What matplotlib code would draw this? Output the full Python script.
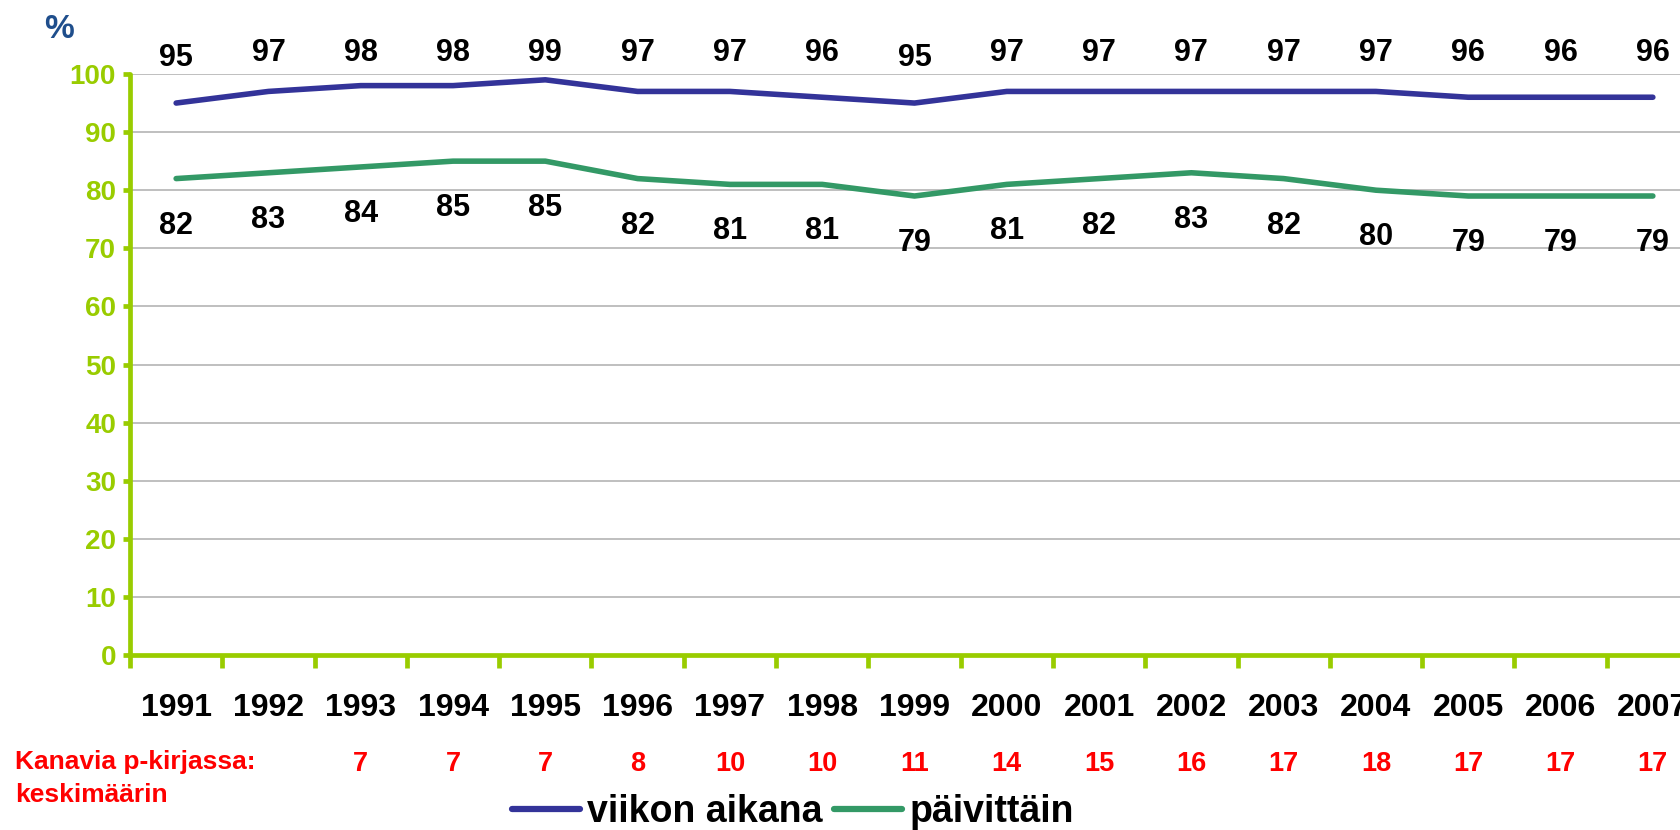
import matplotlib
matplotlib.use("Agg")
import matplotlib.pyplot as plt
import matplotlib.transforms as mtransforms
from matplotlib.lines import Line2D

plt.rcParams['font.family'] = ['Liberation Sans', 'DejaVu Sans']
plt.rcParams['font.weight'] = 'bold'

years = ['1991', '1992', '1993', '1994', '1995', '1996', '1997', '1998', '1999',
         '2000', '2001', '2002', '2003', '2004', '2005', '2006', '2007']
weekly = [95, 97, 98, 98, 99, 97, 97, 96, 95, 97, 97, 97, 97, 97, 96, 96, 96]
daily = [82, 83, 84, 85, 85, 82, 81, 81, 79, 81, 82, 83, 82, 80, 79, 79, 79]
channel_years = ['1993', '1994', '1995', '1996', '1997', '1998', '1999', '2000',
                 '2001', '2002', '2003', '2004', '2005', '2006', '2007']
channels = [7, 7, 7, 8, 10, 10, 11, 14, 15, 16, 17, 18, 17, 17, 17]
series_names = ['viikon aikana', 'päivittäin']
yticks = list(range(0, 101, 10))

BLUE = '#333399'
GREEN = '#339966'
LIME = '#99CC00'
RED = '#FF0000'

W, H = 1681, 830
fig = plt.figure(figsize=(W / 100, H / 100), dpi=100)
ax = fig.add_axes([130 / W, 175 / H, 1569 / W, 581 / H])

x = list(range(len(years)))
ax.set_xlim(-0.5, len(years) - 0.5)
ax.set_ylim(0, 100)

# grid
for yv in yticks[1:]:
    ax.axhline(yv, color='#BFBFBF', lw=1.4, zorder=1)

ax.plot(x, weekly, color=BLUE, lw=4, solid_capstyle='round', zorder=3, clip_on=False)
ax.plot(x, daily, color=GREEN, lw=4, solid_capstyle='round', zorder=3, clip_on=False)

# data labels
for xi, v in zip(x, weekly):
    ax.text(xi, min(v + 7.8, 103.6), str(v), ha='center', va='center',
            fontsize=22, fontweight='bold', color='black', clip_on=False)
for xi, v in zip(x, daily):
    ax.text(xi, v - 8.1, str(v), ha='center', va='center',
            fontsize=22, fontweight='bold', color='black', clip_on=False)

# spines
for s in ['top', 'right']:
    ax.spines[s].set_visible(False)
for s in ['left', 'bottom']:
    ax.spines[s].set_color(LIME)
    ax.spines[s].set_linewidth(3.4)
    ax.spines[s].set_capstyle('round')

ax.set_yticks(yticks)
ax.set_yticklabels([str(t) for t in yticks])
ax.tick_params(axis='y', direction='out', length=5, width=3.4, color=LIME,
               labelcolor=LIME, labelsize=20, pad=5)
for lab in ax.get_yticklabels():
    lab.set_fontweight('bold')

ax.set_xticks([i - 0.5 for i in range(len(years) + 1)])
ax.set_xticklabels([])
ax.tick_params(axis='x', direction='out', length=9, width=3.4, color=LIME)

# year labels
tr = mtransforms.blended_transform_factory(ax.transData, fig.transFigure)
for xi, yr in zip(x, years):
    ax.text(xi, 1 - 708 / H, yr, transform=tr, ha='center', va='center',
            fontsize=23, fontweight='bold', color='black', clip_on=False)

# channel counts row
fig.text(15 / W, 1 - 762 / H, 'Kanavia p-kirjassa:', ha='left', va='center',
         fontsize=19, fontweight='bold', color=RED)
fig.text(15 / W, 1 - 795 / H, 'keskimäärin', ha='left', va='center',
         fontsize=19, fontweight='bold', color=RED)
for yr, c in zip(channel_years, channels):
    ax.text(years.index(yr), 1 - 764 / H, str(c), transform=tr, ha='center',
            va='center', fontsize=19.5, fontweight='bold', color=RED, clip_on=False)

# percent sign
fig.text(59 / W, 1 - 29 / H, '%', ha='center', va='center', fontsize=24,
         fontweight='bold', color='#1F4E8C')

# legend
handles = [Line2D([], [], color=BLUE, lw=4.5, solid_capstyle='round'),
           Line2D([], [], color=GREEN, lw=4.5, solid_capstyle='round')]
leg = fig.legend(handles, series_names, loc='center', bbox_to_anchor=(793 / W, 1 - 812 / H),
                 ncol=2, frameon=False, fontsize=27, handlelength=1.8,
                 handletextpad=0.2, columnspacing=0.3, borderpad=0, borderaxespad=0)
for t in leg.get_texts():
    t.set_fontweight('bold')

fig.savefig('out.png', dpi=100)
